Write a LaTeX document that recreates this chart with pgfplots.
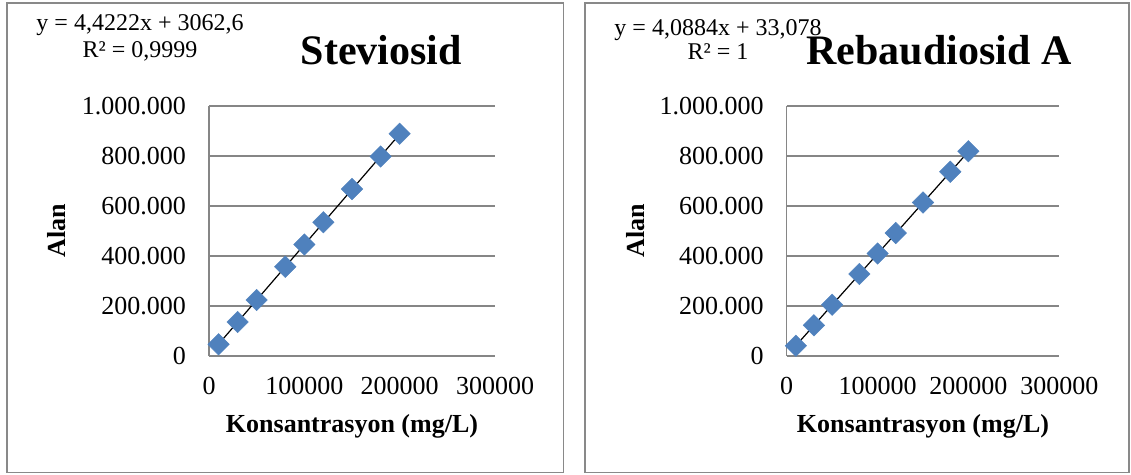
\documentclass[border=0pt]{standalone}
\usepackage{fontspec}
\setmainfont{Liberation Serif}
\usepackage{pgfplots}
\pgfplotsset{compat=1.18}
\definecolor{excelblue}{RGB}{79,129,189}
\definecolor{gridgray}{RGB}{134,134,134}
\definecolor{bordergray}{RGB}{137,137,137}
\pgfplotsset{
  panel/.style={
    anchor=south west, scale only axis,
    height=250pt,
    xmin=0, xmax=300000, ymin=0, ymax=1000000,
    xtick={0,100000,200000,300000},
    ytick={0,200000,400000,600000,800000,1000000},
    scaled x ticks=false, scaled y ticks=false,
    /pgf/number format/assume math mode=true,
    xticklabel style={/pgf/number format/1000 sep={}, /pgf/number format/fixed, anchor=north, inner sep=0pt, yshift=-21pt},
    yticklabel style={/pgf/number format/1000 sep={.}, /pgf/number format/fixed, anchor=east, inner sep=0pt, xshift=-23pt},
    tick label style={font=\fontsize{26}{30}\selectfont},
    major tick length=0pt,
    axis x line*=bottom, axis y line*=left,
    axis line style={-, draw=gridgray, line width=1.2pt},
    ymajorgrids, grid style={draw=gridgray, line width=1.2pt},
    label style={font=\bfseries\fontsize{26}{30}\selectfont},
    xlabel={Konsantrasyon (mg/L)},
    ylabel={Alan},
    xlabel style={at={(axis description cs:0.5,0)}, anchor=center, yshift=-70pt},
    ylabel style={at={(axis description cs:0,0.5)}, anchor=center, yshift=152pt},
    title style={at={(axis description cs:0,1)}, anchor=base, yshift=36pt, font=\bfseries\fontsize{42}{50}\selectfont},
    clip=false,
  },
  pts/.style={only marks, mark=square*, mark size=7.6pt, mark options={rotate=45, fill=excelblue, draw=excelblue}},
  trend/.style={black, line width=1.2pt, mark=none},
}
\begin{document}
\begin{tikzpicture}[x=1pt,y=1pt]
\useasboundingbox (0,0) rectangle (1131,-474);
\draw[bordergray, line width=1.6pt] (7,-3) rectangle (563.5,-472.5);
\draw[bordergray, line width=1.6pt] (585,-3) rectangle (1129,-472.5);

\begin{axis}[panel, at={(209pt,-356pt)}, width=286pt,
  title={Steviosid}, title style={xshift=172.5pt}]
\addplot[pts] coordinates {
(10000,47000) (30000,136000) (50000,224000) (80000,357000) (100000,446000)
(120000,535000) (150000,668000) (180000,798000) (200000,889000)};
\addplot[trend] coordinates {(10000,47284) (200000,887502)};
\end{axis}

\begin{axis}[panel, at={(786.7pt,-356pt)}, width=272.6pt,
  title={Rebaudiosid A}, title style={xshift=152.3pt},
  ylabel style={yshift=-1pt}]
\addplot[pts] coordinates {
(10000,41000) (30000,123000) (50000,205000) (80000,328000) (100000,410000)
(120000,492000) (150000,614000) (180000,737000) (200000,819000)};
\addplot[trend] coordinates {(10000,40917) (200000,817713)};
\end{axis}

\node[anchor=base, inner sep=0pt, font=\fontsize{24}{28}\selectfont] at (140,-30) {y = 4,4222x + 3062,6};
\node[anchor=base, inner sep=0pt, font=\fontsize{24}{28}\selectfont] at (140,-57) {R² = 0,9999};
\node[anchor=base, inner sep=0pt, font=\fontsize{24}{28}\selectfont] at (718,-35) {y = 4,0884x + 33,078};
\node[anchor=base, inner sep=0pt, font=\fontsize{24}{28}\selectfont] at (718,-59) {R² = 1};
\end{tikzpicture}
\end{document}
